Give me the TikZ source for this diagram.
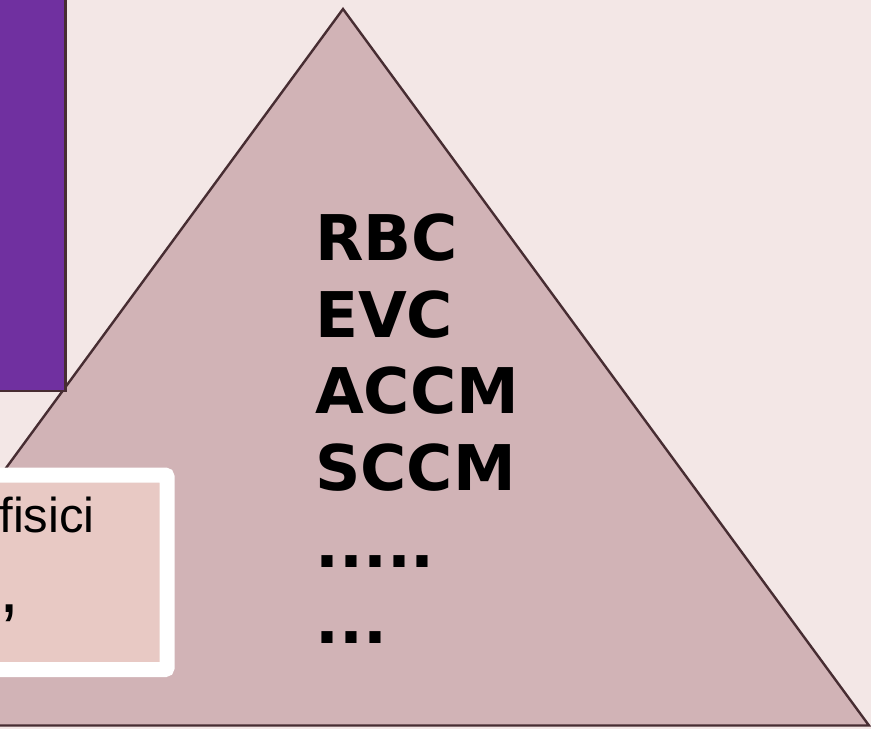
\documentclass[tikz,border=0pt]{standalone}
\usepackage{fontspec}
\setmainfont{Liberation Sans}
\newfontfamily\labelfont{DejaVu Sans}
\definecolor{bgpink}{HTML}{F3E7E6}
\definecolor{trifill}{HTML}{D1B3B6}
\definecolor{edge}{HTML}{472D32}
\definecolor{barpurple}{HTML}{7030A0}
\definecolor{boxfill}{HTML}{E8C9C4}
\tikzset{
  outline/.style={draw=edge, line width=2.4pt, line join=miter},
  stack/.style={anchor=base west, inner sep=0pt,
    font=\labelfont\bfseries\fontsize{63}{63}\selectfont},
  boxtext/.style={anchor=base west, inner sep=0pt,
    font=\fontsize{49}{49}\selectfont}
}
\begin{document}
\begin{tikzpicture}[x=1pt,y=-1pt]
  \clip (0,0) rectangle (871,729);
  \fill[bgpink] (0,0) rectangle (871,729);
  % pyramid
  \coordinate (apex) at (343,9);
  \coordinate (br) at (869,725.5);
  \coordinate (bl) at (-183,725.5);
  \path[outline, fill=trifill] (apex) -- (br) -- (bl) -- cycle;
  % purple side bar
  \path[outline, fill=barpurple] (-10,-10) rectangle (65.5,391);
  % framed note box
  \path[draw=white, line width=15pt, rounded corners=2pt, fill=boxfill]
    (-20,475) rectangle (167,669.5);
  \node[boxtext] (note1) at (-0.8,532) {fisici};
  \node[boxtext, font=\fontsize{72}{72}\selectfont] (note2) at (-0.5,612) {,};
  % list inside the pyramid
  \node[stack] (l1) at (315,260) {RBC};
  \node[stack] (l2) at (315,337) {EVC};
  \node[stack] (l3) at (315,413) {ACCM};
  \node[stack] (l4) at (315,490) {SCCM};
  \node[stack] (l5) at (315,567) {.....};
  \node[stack] (l6) at (315,643) {...};
\end{tikzpicture}
\end{document}
